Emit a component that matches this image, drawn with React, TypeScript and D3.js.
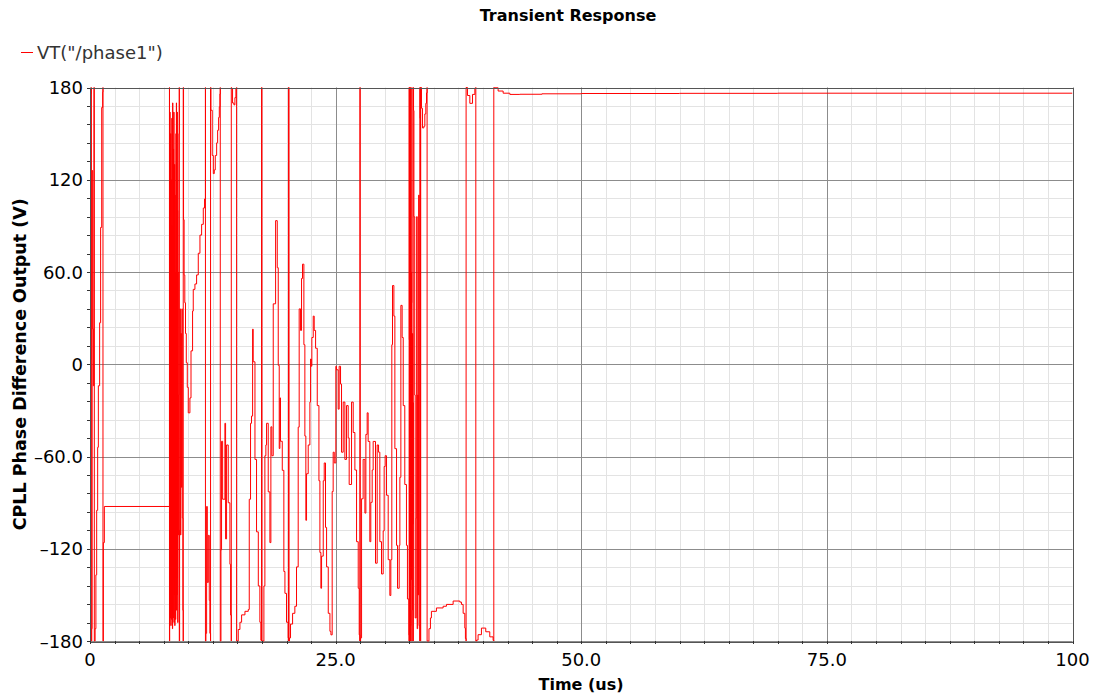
import React from 'react';
import * as d3 from 'd3';

const W = 1096;
const H = 696;

const chartTitle = 'Transient Response';
const legendLabel = 'VT("/phase1")';
const xAxisTitle = 'Time (us)';
const yAxisTitle = 'CPLL Phase Difference Output (V)';

const xDomain = [0, 100];
const yDomain = [-180, 180];
const xMajorTicks = [0, 25, 50, 75, 100];
const xTickLabels = ['0', '25.0', '50.0', '75.0', '100'];
const yMajorTicks = [-180, -120, -60, 0, 60, 120, 180];
const yTickLabels = ['\u2013180', '\u2013120', '\u201360.0', '0', '60.0', '120', '180'];
const xMinorStep = 2.5;
const yMinorStep = 12;

// trace segments: [time (us), phase]
const startup: [number, number][] = [
  [0, 0], [0.05, 3], [0.1, 176], [0.14, 180], [0.14, -180], [0.18, -172], [0.22, 126],
  [0.28, 23], [0.34, -14], [0.4, 180], [0.44, 180], [0.44, -180], [0.52, -172],
  [0.6, -137], [0.68, -95], [0.78, -54], [0.85, -14], [0.98, 27], [1.08, 89], [1.19, 167],
  [1.29, 177], [1.32, 180], [1.32, -180], [1.36, -116], [1.46, -92.5],
];

const burst1: [number, number][] = [
  [8.07, -92.5], [8.09, 180], [8.09, -180], [8.11, -166], [8.13, 164], [8.15, -150], [8.17, 137],
  [8.19, -165], [8.21, 150], [8.23, -170], [8.25, 120], [8.27, -160], [8.29, 0], [8.31, -166],
  [8.33, 160], [8.35, -100], [8.37, 90], [8.39, -172], [8.41, 170], [8.43, -140], [8.45, 38],
  [8.47, -165], [8.49, 140], [8.51, -88], [8.53, 164], [8.55, -168], [8.57, 15], [8.59, -150],
  [8.61, 130], [8.63, -170], [8.65, 110], [8.67, -108], [8.69, 60], [8.71, -166], [8.73, -40],
  [8.75, 150], [8.77, -139], [8.79, 170], [8.81, -160], [8.83, 120], [8.85, -150], [8.87, 164],
  [8.89, -139], [8.91, 100], [8.93, -168], [8.95, 60], [8.97, -111], [9.0, -20], [9.05, 150],
  [9.09, 180], [9.09, -180], [9.12, -108], [9.16, 36], [9.2, -111], [9.25, 20], [9.3, -80],
  [9.35, 36], [9.4, -100], [9.45, -160], [9.49, -180], [9.49, 180], [9.52, 94], [9.58, 58],
  [9.65, 40], [9.72, 20], [9.8, 1], [9.9, -15], [10.0, -31.6],
];

const lockAttempt1: [number, number][] = [
  [10.17, -21.9], [10.28, 8.7], [10.44, 34.6], [10.51, 48.7], [10.68, 52.2], [10.85, 58.1],
  [11.02, 72.2], [11.19, 84], [11.36, 91], [11.53, 101.6], [11.66, 107.5], [11.75, 180],
  [11.75, -180], [11.8, -175], [11.87, -92.5], [11.94, -141.9], [12.04, -111.3], [12.14, -153.6],
  [12.2, -175], [12.27, -180], [12.27, 180], [12.31, 165.2], [12.44, 135.8], [12.55, 124],
  [12.65, 126.4], [12.75, 135.8], [12.89, 144], [12.99, 152.2], [13.09, 160.5], [13.16, 167.5],
  [13.22, 175.8], [13.26, 180], [13.26, -180], [13.33, -120.7], [13.39, -50.1], [13.5, -87.8],
  [13.73, -38.4], [13.8, -113.6], [13.9, -52.5], [14.07, -90.1], [14.24, -130.1], [14.31, -163.1],
  [14.38, -180], [14.38, 180], [14.41, 179.3], [14.51, 169.9], [14.65, 168.7], [14.75, 173.4],
  [14.85, 179.3], [14.92, 180], [14.92, -180], [14.99, -180], [15.09, -172.5], [15.26, -167.8],
  [15.43, -163], [15.77, -160.7], [16.11, -159.5], [16.21, -87.8], [16.34, -38.4], [16.44, -33.7],
  [16.55, 22.8], [16.61, 1.6], [16.79, -61.9], [16.95, -109], [17.13, -144.2], [17.29, -167.8],
  [17.39, -179.5], [17.46, -180], [17.46, 180], [17.5, 180], [17.5, -180], [17.56, -180],
  [17.7, -144.2], [17.8, -59.5], [17.9, -52.5], [17.97, -38.4], [18.14, -83], [18.31, -116],
  [18.41, -40.7], [18.51, -59.5], [18.65, 39.3], [18.89, 93.4], [19.06, 62.8], [19.16, -0.7],
  [19.26, -54.8], [19.33, -21.9], [19.39, -50.1], [19.57, -69], [19.73, -134.8], [19.84, -149],
  [20.0, -167.8], [20.17, -178], [20.2, -180], [20.2, 180], [20.26, 180], [20.26, -180],
];

const lockAttempt2: [number, number][] = [
  [20.3, -178], [20.41, -169], [20.62, -162], [20.85, -157.4], [21.02, -131.8], [21.19, -40.9],
  [21.29, 36], [21.43, 22], [21.53, 55.8], [21.63, 65.1], [21.77, 12.7], [21.87, -46.7],
  [21.97, -101.5], [22.04, -71.2], [22.21, -52.5], [22.38, -24.6], [22.45, 3.4], [22.52, -1.3],
  [22.58, 17.4], [22.72, 31.3], [22.82, 22], [22.96, 10.4], [23.13, -26.9], [23.3, -75.8],
  [23.4, -122.4], [23.5, -145.7], [23.57, -124.8], [23.74, -75.8], [23.84, -64.2], [23.97, -106.1],
  [24.08, -131.8], [24.25, -162], [24.42, -173.7], [24.52, -176], [24.65, -82.8], [24.75, -57.2],
  [24.86, -64.2], [25.02, -1.3], [25.09, -3.6], [25.26, -29.2], [25.36, -1.3], [25.5, -12.9],
  [25.6, -57.2], [25.77, -24.6], [25.94, -61.9], [26.11, -26.9], [26.28, -47.9], [26.38, -78.2],
  [26.62, -24.6], [26.79, -44.4], [26.96, -68.8], [27.13, -115.4], [27.3, -145.7], [27.4, -176],
  [27.47, -180], [27.47, 180], [27.5, 180], [27.5, -180], [27.54, -178], [27.64, -87.5],
  [27.8, -61.9], [27.98, -96.8], [28.08, -45.6], [28.21, -31.6], [28.31, -50.2], [28.48, -115.4],
  [28.58, -89.8], [28.72, -68.8], [28.82, -50.2], [29.06, -129.4], [29.23, -52.5], [29.37, -57.2],
  [29.5, -115.4], [29.67, -136.4], [29.84, -108.4], [29.94, -66.5], [30.04, -59.5], [30.18, -85.2],
  [30.35, -127.1], [30.52, -150.4], [30.62, -127.1], [30.72, 12.7], [30.79, 51.2], [30.93, 31.3],
  [31.03, -54.9], [31.2, -117.8], [31.3, -145.7], [31.47, -117.8], [31.54, -73.5], [31.64, 38.3],
  [31.77, 17.4], [31.88, -26.9], [32.04, -78.2], [32.21, -117.8], [32.31, -152.7], [32.45, -176],
];

const burst2: [number, number][] = [
  [32.48, -180], [32.48, 180], [32.5, 16], [32.52, -104], [32.54, -180], [32.54, 180],
  [32.57, 150], [32.6, -25], [32.62, 180], [32.62, -180], [32.65, -170], [32.68, 60],
  [32.7, -140], [32.73, 40], [32.76, 180], [32.76, -180], [32.79, -160], [32.82, 20],
  [32.85, -104], [32.88, -25], [32.9, -180], [32.9, 180], [32.93, 165], [32.97, 96],
  [33.0, 96], [33.05, -20], [33.1, -165], [33.2, -100], [33.25, 96], [33.3, -172],
  [33.35, -20], [33.4, -150], [33.45, 110], [33.5, -170], [33.57, -180], [33.57, 180],
  [33.6, 160], [33.64, 180], [33.64, -180], [33.66, -180], [33.66, 180],
];

const settling: [number, number][] = [
  [33.74, 166.5], [33.84, 153.7], [33.98, 154.8], [34.08, 162.8], [34.18, 169.7], [34.25, 176.5],
  [34.31, 180], [34.31, -180], [34.42, -180], [34.5, -172], [34.65, -165], [34.75, -160.7],
  [35.26, -158.5], [35.94, -157.4], [36.28, -156.2], [36.96, -154], [37.64, -154.7],
  [37.81, -156.2], [37.98, -162], [38.15, -171.6], [38.21, -178.4], [38.28, -180], [38.28, 180],
  [38.42, 174.8], [38.66, 169.7], [38.93, 175.5], [39.17, 179.5], [39.27, 180], [39.27, -180],
  [39.34, -179.4], [39.5, -175.9], [39.84, -171.6], [40.28, -174], [40.69, -177.3],
  [41.03, -179.6], [41.1, -180], [41.1, 180], [41.13, 179.8], [41.54, 177.7], [42.05, 176.3],
  [42.73, 175.5], [43.75, 175.6], [46, 175.9], [50, 176.1], [60, 176.2], [70, 176.3],
  [80, 176.3], [90, 176.3], [100, 176.3],
];

const trace = [...startup, ...burst1, ...lockAttempt1, ...lockAttempt2, ...burst2, ...settling];

const PL = 90, PR = 1072.5, PT = 87.5, PB = 641;
const FONT = '"DejaVu Sans", sans-serif';

export default function App() {
  const x = d3.scaleLinear().domain(xDomain).range([PL, PR]);
  const y = d3.scaleLinear().domain(yDomain).range([PB, PT]);

  const xMinor = d3.range(xDomain[0], xDomain[1] + 0.001, xMinorStep);
  const yMinor = d3.range(yDomain[0], yDomain[1] + 0.001, yMinorStep);

  const line = d3.line<[number, number]>()
    .x(d => x(d[0]))
    .y(d => y(d[1]))
    .curve(d3.curveStepAfter);

  return (
    <svg width={W} height={H} style={{ position: 'absolute', left: 0, top: 0, background: '#fff' }}>
      <rect x={0} y={0} width={W} height={H} fill="#fff" />
      {/* minor grid */}
      {xMinor.map((t, i) => (
        <line key={'xm' + i} x1={Math.round(x(t)) + 0.5} x2={Math.round(x(t)) + 0.5} y1={PT} y2={PB} stroke="#e3e3e3" strokeWidth={1} />
      ))}
      {yMinor.map((v, i) => (
        <line key={'ym' + i} x1={PL} x2={PR} y1={Math.round(y(v)) + 0.5} y2={Math.round(y(v)) + 0.5} stroke="#e3e3e3" strokeWidth={1} />
      ))}
      {/* major grid */}
      {xMajorTicks.map((t, i) => (
        <line key={'xM' + i} x1={Math.round(x(t)) + 0.5} x2={Math.round(x(t)) + 0.5} y1={PT} y2={PB} stroke="#8c8c8c" strokeWidth={1} />
      ))}
      {yMajorTicks.map((v, i) => (
        <line key={'yM' + i} x1={PL} x2={PR} y1={Math.round(y(v)) + 0.5} y2={Math.round(y(v)) + 0.5} stroke="#8c8c8c" strokeWidth={1} />
      ))}
      {/* trace */}
      <clipPath id="plotclip">
        <rect x={PL} y={PT - 1} width={PR - PL} height={PB - PT + 2} />
      </clipPath>
      <path d={line(trace) || ''} fill="none" stroke="#ff0000" strokeWidth={1} clipPath="url(#plotclip)" />
      {/* frame */}
      <rect x={PL + 0.5} y={Math.round(PT) + 0.5} width={Math.round(PR - PL)} height={Math.round(PB - PT)} fill="none" stroke="#555" strokeWidth={1} />
      {/* ticks */}
      {xMinor.map((t, i) => (
        <line key={'xt' + i} x1={Math.round(x(t)) + 0.5} x2={Math.round(x(t)) + 0.5} y1={PB} y2={PB + 3} stroke="#333" strokeWidth={1} />
      ))}
      {yMinor.map((v, i) => (
        <line key={'yt' + i} x1={PL - 3} x2={PL} y1={Math.round(y(v)) + 0.5} y2={Math.round(y(v)) + 0.5} stroke="#333" strokeWidth={1} />
      ))}
      {/* tick labels */}
      {xMajorTicks.map((t, i) => (
        <text key={'xl' + i} x={x(t)} y={666} textAnchor="middle" fontFamily={FONT} fontSize={18} fill="#000">{xTickLabels[i]}</text>
      ))}
      {yMajorTicks.map((v, i) => (
        <text key={'yl' + i} x={83} y={y(v) + 6.5} textAnchor="end" fontFamily={FONT} fontSize={18} fill="#000">{yTickLabels[i]}</text>
      ))}
      {/* titles */}
      <text x={568} y={21} textAnchor="middle" fontFamily={FONT} fontSize={16} fontWeight="bold" fill="#000">{chartTitle}</text>
      <text x={581} y={690} textAnchor="middle" fontFamily={FONT} fontSize={16} fontWeight="bold" fill="#000">{xAxisTitle}</text>
      <text transform={`translate(26,${(PT + PB) / 2}) rotate(-90)`} textAnchor="middle" fontFamily={FONT} fontSize={17.5} fontWeight="bold" fill="#000">{yAxisTitle}</text>
      {/* legend */}
      <line x1={21} x2={33} y1={52.5} y2={52.5} stroke="#ff0000" strokeWidth={1} />
      <text x={37} y={59} fontFamily={FONT} fontSize={18} fill="#333">{legendLabel}</text>
    </svg>
  );
}
